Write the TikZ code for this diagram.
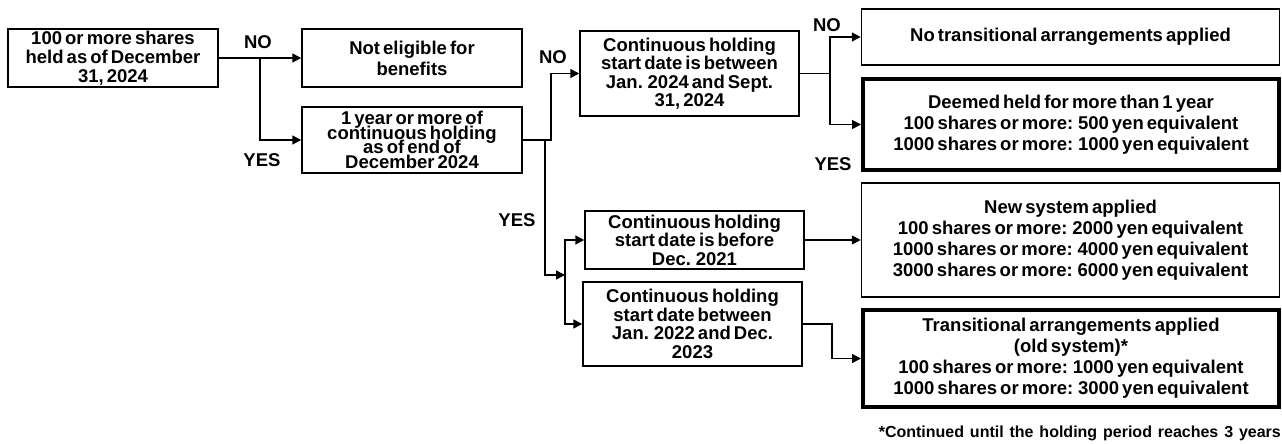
\documentclass[tikz,border=0pt]{standalone}
\usepackage{fontspec}
\setmainfont{Liberation Sans}[WordSpace=0.6]
\usetikzlibrary{arrows.meta,positioning}
\newcommand\tightlines{\lineskiplimit=-50pt\relax}
\tikzset{
  >={Triangle[length=9pt,width=9pt]},
  box/.style   ={draw, line width=1.5pt, align=center, inner sep=1pt,
                 font=\bfseries\fontsize{18.5}{18.5}\selectfont},
  widebox/.style={box, font=\bfseries\fontsize{18.5}{21}\selectfont},
  heavy/.style ={line width=4pt},
}

\begin{document}
\begin{tikzpicture}[x=1pt, y=-1pt,
  wire/.style={line width=1.5pt, line join=miter},
  arr/.style={wire, ->},
  lbl/.style={font=\bfseries\fontsize{18.5}{20}\selectfont, inner sep=0pt},
  note/.style={font=\bfseries\fontsize{16}{18}\selectfont, inner sep=0pt}
]
\useasboundingbox (0,0) rectangle (1282,444);

%--- Questions (left and middle columns) ---
\node[box, minimum width=210pt, minimum height=58pt,
      font={\bfseries\fontsize{18.5}{19}\selectfont}] (qHeld) at (113,58)
  {100 or more shares\\held as of December\\31, 2024};
\node[box, minimum width=220pt, minimum height=58pt,
      font={\bfseries\fontsize{18.5}{21}\selectfont}] (rNot) at (412,58)
  {Not eligible for\\benefits};
\node[box, minimum width=220pt, minimum height=66pt,
      font={\bfseries\fontsize{18.5}{14.5}\selectfont\tightlines}] (qYear) at (412,140)
  {1 year or more of\\continuous holding\\as of end of\\December 2024};
\node[box, minimum width=219pt, minimum height=85pt] (qSept) at (689.5,73.5)
  {Continuous holding\\start date is between\\Jan. 2024 and Sept.\\31, 2024};
\node[box, minimum width=219pt, minimum height=58pt] (qBefore) at (694.5,240)
  {Continuous holding\\start date is before\\Dec. 2021};
\node[box, minimum width=219pt, minimum height=84pt] (qBetween) at (692.5,324)
  {Continuous holding\\start date between\\Jan. 2022 and Dec.\\2023};

%--- Results (right column) ---
\node[widebox, minimum width=418pt, minimum height=56pt] (rNone) at (1070.5,37)
  {No transitional arrangements applied};
\node[widebox, heavy, minimum width=416pt, minimum height=91pt] (rDeemed) at (1071,124.5)
  {Deemed held for more than 1 year\\100 shares or more: 500 yen equivalent\\1000 shares or more: 1000 yen equivalent};
\node[widebox, minimum width=418pt, minimum height=114pt] (rNew) at (1070.5,240)
  {New system applied\\100 shares or more: 2000 yen equivalent\\1000 shares or more: 4000 yen equivalent\\3000 shares or more: 6000 yen equivalent};
\node[widebox, heavy, minimum width=416pt, minimum height=97pt] (rOld) at (1071,358.5)
  {Transitional arrangements applied\\(old system)*\\100 shares or more: 1000 yen equivalent\\1000 shares or more: 3000 yen equivalent};

%--- Branch points ---
\coordinate (sHeld) at (260,58);
\coordinate (sYearNo) at (551,140);
\coordinate (sYearYes) at (545,140);
\coordinate (sStart) at (565,275);
\coordinate (sSept) at (830,73.5);
\coordinate (sBetween) at (832,324);

%--- Connectors ---
\draw[arr] (qHeld.east) -- (sHeld) -- (rNot.west);
\draw[arr] (sHeld) |- (qYear.west);
\draw[arr] (qYear.east) -- (sYearNo) |- (qSept.west);
\draw[arr] (sYearYes) |- (sStart);
\draw[arr] (sStart) |- (qBefore.west);
\draw[arr] (sStart) |- (qBetween.west);
\draw[arr] (qSept.east) -- (sSept) |- (rNone.west);
\draw[arr] (sSept) |- (rDeemed.west);
\draw[arr] (qBefore.east) -- (rNew.west);
\draw[arr] (qBetween.east) -- (sBetween) |- (rOld.west);

%--- Yes / no labels ---
\node[lbl] (lNoHeld)  at (258,42)  {NO};
\node[lbl] (lYesHeld) at (262,160) {YES};
\node[lbl] (lNoYear)  at (553,57)  {NO};
\node[lbl] (lYesYear) at (517,220) {YES};
\node[lbl] (lNoSept)  at (827,25)  {NO};
\node[lbl] (lYesSept) at (833,164) {YES};

% footnote
\node[note, anchor=east] (fNote) at (1281,433)
  {\makebox[402pt][s]{*Continued until the holding period reaches 3 years}};

\end{tikzpicture}
\end{document}
